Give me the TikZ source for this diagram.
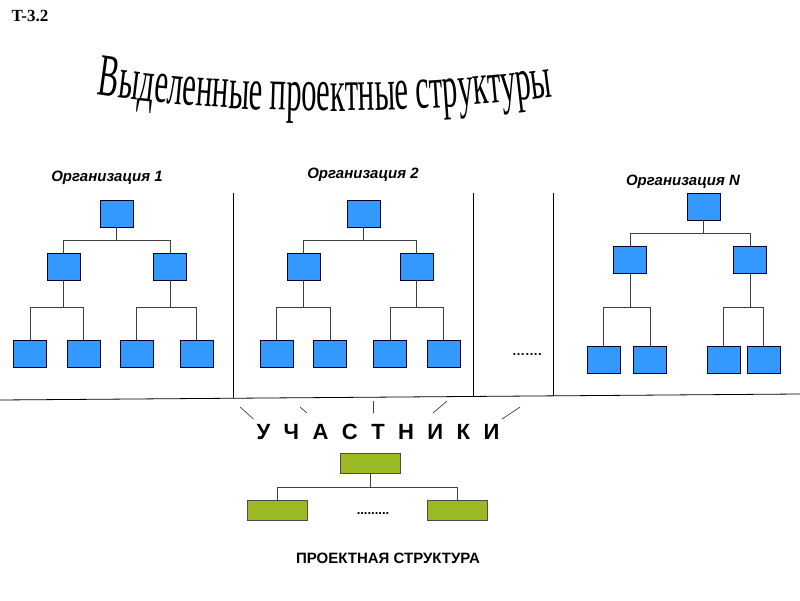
\documentclass[tikz,border=0pt]{standalone}
\usepackage{fontspec}
\setmainfont{Liberation Serif}
\setsansfont{Liberation Sans}
\newfontfamily\TitleFam[FakeStretch=0.51]{Liberation Serif}
\newfontfamily\PartFam[WordSpace=2.2]{Liberation Sans}
\usetikzlibrary{calc}
\usetikzlibrary{positioning}
\usetikzlibrary{decorations.text}
\definecolor{unitBlue}{RGB}{51,153,255}
\definecolor{unitGreen}{RGB}{155,185,35}
\tikzstyle{orgunit} = [draw=black!85!blue, fill=unitBlue, line width=0.8pt, minimum width=33pt, minimum height=27pt, inner sep=0pt]
\tikzstyle{projunit} = [draw=black!70, fill=unitGreen, line width=0.8pt, minimum width=60pt, minimum height=20pt, inner sep=0pt]
\tikzstyle{orglink} = [draw=black!75, line width=0.9pt]
\tikzstyle{orglabel} = [font=\sffamily\bfseries\itshape\fontsize{15}{17}\selectfont]
\tikzstyle{divider} = [draw=black, line width=0.8pt]

\begin{document}
\begin{tikzpicture}[x=1pt, y=1pt]
    \useasboundingbox (0,0) rectangle (800,600);

    \node[font=\bfseries\fontsize{17}{19}\selectfont] (sheet) at (30,584) {T-3.2};
    \path[decorate, decoration={text along path, text align=center,
        text={|\TitleFam\fontsize{60}{60}\selectfont|Выделенные проектные структуры}}]
        (60,511) .. controls (230,482) and (420,482) .. (590,509);

    % organisation 1
    \node[orglabel] (o1_name) at (107,422) {Организация 1};
    \node[orgunit] (o1_top) at (116.5,386.5) {};
    \node[orgunit] (o1_l) at ($(o1_top)+(-53,-53)$) {};
    \node[orgunit] (o1_r) at ($(o1_top)+(53.5,-53)$) {};
    \node[orgunit] (o1_ll) at ($(o1_l)+(-33.5,-87)$) {};
    \node[orgunit] (o1_lr) at ($(o1_l)+(20,-87)$) {};
    \node[orgunit] (o1_rl) at ($(o1_r)+(-33.5,-87)$) {};
    \node[orgunit] (o1_rr) at ($(o1_r)+(26.5,-87)$) {};
    \draw[orglink] (o1_top.south) -- ++(0,-13) -| (o1_l.north);
    \draw[orglink] (o1_top.south) -- ++(0,-13) -| (o1_r.north);
    \draw[orglink] (o1_l.south) -- ++(0,-27) -| (o1_ll.north);
    \draw[orglink] (o1_l.south) -- ++(0,-27) -| (o1_lr.north);
    \draw[orglink] (o1_r.south) -- ++(0,-27) -| (o1_rl.north);
    \draw[orglink] (o1_r.south) -- ++(0,-27) -| (o1_rr.north);

    % organisation 2
    \node[orglabel] (o2_name) at (363,425) {Организация 2};
    \node[orgunit] (o2_top) at (363.5,386.5) {};
    \node[orgunit] (o2_l) at ($(o2_top)+(-60,-53)$) {};
    \node[orgunit] (o2_r) at ($(o2_top)+(53,-53)$) {};
    \node[orgunit] (o2_ll) at ($(o2_l)+(-27,-87)$) {};
    \node[orgunit] (o2_lr) at ($(o2_l)+(26.5,-87)$) {};
    \node[orgunit] (o2_rl) at ($(o2_r)+(-26.5,-87)$) {};
    \node[orgunit] (o2_rr) at ($(o2_r)+(27,-87)$) {};
    \draw[orglink] (o2_top.south) -- ++(0,-13) -| (o2_l.north);
    \draw[orglink] (o2_top.south) -- ++(0,-13) -| (o2_r.north);
    \draw[orglink] (o2_l.south) -- ++(0,-27) -| (o2_ll.north);
    \draw[orglink] (o2_l.south) -- ++(0,-27) -| (o2_lr.north);
    \draw[orglink] (o2_r.south) -- ++(0,-27) -| (o2_rl.north);
    \draw[orglink] (o2_r.south) -- ++(0,-27) -| (o2_rr.north);

    % organisation N
    \node[orglabel] (on_name) at (683,418) {Организация N};
    \node[orgunit] (on_top) at (703.5,393.5) {};
    \node[orgunit] (on_l) at ($(on_top)+(-73.5,-53.5)$) {};
    \node[orgunit] (on_r) at ($(on_top)+(46.5,-53.5)$) {};
    \node[orgunit] (on_ll) at ($(on_l)+(-26.5,-100)$) {};
    \node[orgunit] (on_lr) at ($(on_l)+(20,-100)$) {};
    \node[orgunit] (on_rl) at ($(on_r)+(-26.5,-100)$) {};
    \node[orgunit] (on_rr) at ($(on_r)+(13.5,-100)$) {};
    \draw[orglink] (on_top.south) -- ++(0,-13) -| (on_l.north);
    \draw[orglink] (on_top.south) -- ++(0,-13) -| (on_r.north);
    \draw[orglink] (on_l.south) -- ++(0,-33.5) -| (on_ll.north);
    \draw[orglink] (on_l.south) -- ++(0,-33.5) -| (on_lr.north);
    \draw[orglink] (on_r.south) -- ++(0,-33.5) -| (on_rl.north);
    \draw[orglink] (on_r.south) -- ++(0,-33.5) -| (on_rr.north);

    \node[font=\sffamily\bfseries\fontsize{13}{15}\selectfont] (gap_dots) at (527,245) {…….};

    % dividers and base line
    \draw[divider] (233,407) -- (233,201.6);
    \draw[divider] (473,407) -- (473,203.5);
    \draw[divider] (553,407) -- (553,204.1);
    \draw[divider] (0,200) -- (800,206);

    % participants
    \node[font=\PartFam\bfseries\fontsize{22}{24}\selectfont] (members) at (378,168) {У Ч А С Т Н И К И};
    \draw[black!75, line width=0.7pt] (240,193) -- (253.5,181);
    \draw[black!75, line width=0.7pt] (300,193) -- (307,187);
    \draw[black!75, line width=0.7pt] (373,199) -- (373,187);
    \draw[black!75, line width=0.7pt] (447,199) -- (433,187);
    \draw[black!75, line width=0.7pt] (520,193) -- (502,181);

    % project structure
    \node[projunit] (p_top) at (370,137) {};
    \node[projunit] (p_l) at ($(p_top)+(-93,-47)$) {};
    \node[projunit] (p_r) at ($(p_top)+(87,-47)$) {};
    \draw[orglink] (p_top.south) -- ++(0,-14) -| (p_l.north);
    \draw[orglink] (p_top.south) -- ++(0,-14) -| (p_r.north);
    \node[font=\sffamily\bfseries\fontsize{13}{15}\selectfont] (p_dots) at (373,86) {.........};
    \node[font=\sffamily\bfseries\fontsize{15}{17}\selectfont] (p_name) at (388,42) {ПРОЕКТНАЯ СТРУКТУРА};
\end{tikzpicture}
\end{document}
